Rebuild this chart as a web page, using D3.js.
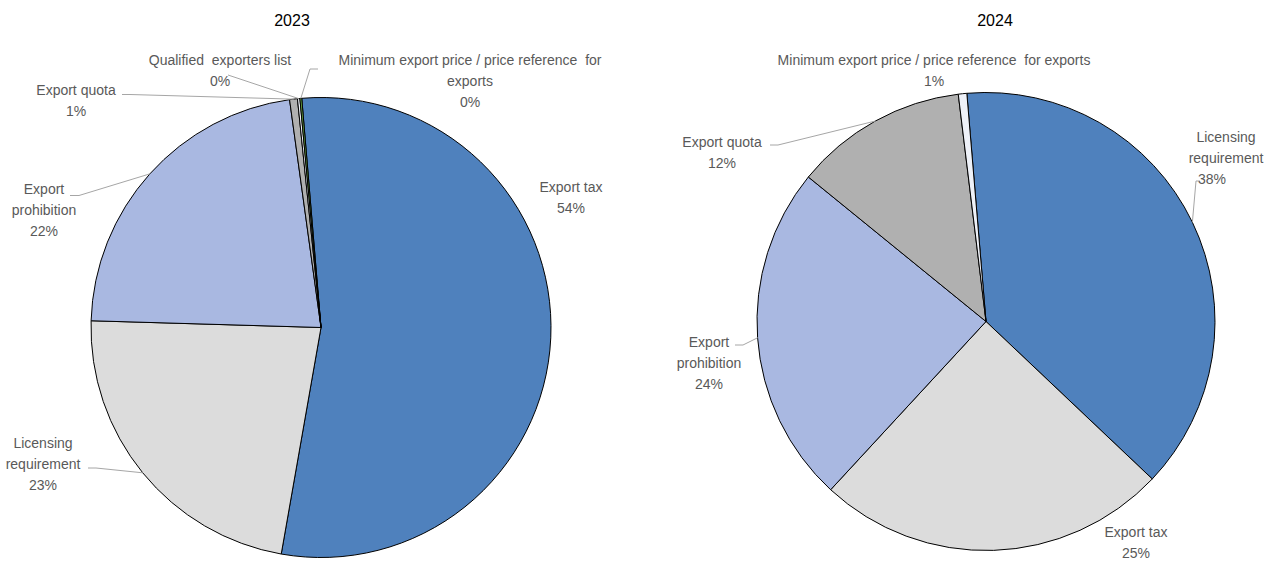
<!DOCTYPE html>
<html>
<head>
<meta charset="utf-8">
<script src="https://cdn.jsdelivr.net/npm/d3@7/dist/d3.min.js"></script>
<style>
  html, body { margin: 0; padding: 0; background: #fff; }
  svg { display: block; font-family: "Liberation Sans", Arial, sans-serif; }
</style>
</head>
<body>
<svg id="chart" width="1264" height="564"></svg>
<script>
// Shares of export restriction measures, by type (%)
const years = ["2023", "2024"];

const categories2023 = ["Export tax", "Licensing requirement", "Export prohibition",
  "Export quota", "Qualified exporters list", "Minimum export price / price reference for exports"];
const values2023 = [54.1, 22.7, 22.35, 0.55, 0.17, 0.13];

const categories2024 = ["Licensing requirement", "Export tax", "Export prohibition",
  "Export quota", "Minimum export price / price reference for exports"];
const values2024 = [38.4, 24.8, 24.0, 12.2, 0.6];

// Label text lines (category wrapping as shown next to each slice)
const labelLines2023 = [
  ["Export tax"],
  ["Licensing", "requirement"],
  ["Export", "prohibition"],
  ["Export quota"],
  ["Qualified  exporters list"],
  ["Minimum export price / price reference  for", "exports"]
];
const labelLines2024 = [
  ["Licensing", "requirement"],
  ["Export tax"],
  ["Export", "prohibition"],
  ["Export quota"],
  ["Minimum export price / price reference  for exports"]
];

// Slice fills by series position
const palette = ["#4f81bd", "#dcdcdc", "#a9b8e1", "#b0b0b0", "#eef1f8", "#6aac45"];

// Layout: pie geometry and label placement (first-line centre, optional leader elbow)
const layouts = [
  {
    cx: 321, cy: 327.5, r: 230, titleX: 292,
    labels: [
      { x: 571, y: 187 },
      { x: 43, y: 443, leader: [[88, 468], [96, 468]] },
      { x: 44, y: 189, leader: [[70, 195.5], [79, 195.5]] },
      { x: 76, y: 90, leader: [[122, 94.5], [130, 94.5]] },
      { x: 220, y: 60, leader: [[228, 75]] },
      { x: 470, y: 60, leader: [[318, 69], [310, 69]] }
    ]
  },
  {
    cx: 986, cy: 321.5, r: 229, titleX: 995,
    labels: [
      { x: 1226, y: 137, pctX: 1212, leader: [[1200, 181], [1196, 181]] },
      { x: 1136, y: 532 },
      { x: 709, y: 342, leader: [[735, 345], [743, 345]] },
      { x: 722, y: 142, leader: [[770, 145], [778, 145]] },
      { x: 934, y: 60 }
    ]
  }
];

const series = [
  { year: years[0], categories: categories2023, values: values2023, lines: labelLines2023 },
  { year: years[1], categories: categories2024, values: values2024, lines: labelLines2024 }
];

const svg = d3.select("#chart");
const startAngle = -4.8 * Math.PI / 180;
const pct = d3.format(".0%");
const lineH = 21;

series.forEach((s, i) => {
  const L = layouts[i];
  const total = d3.sum(s.values);
  const pie = d3.pie().sort(null).value(d => d)
    .startAngle(startAngle).endAngle(startAngle + 2 * Math.PI);
  const arcs = pie(s.values);
  const arc = d3.arc().innerRadius(0).outerRadius(L.r);
  const edge = d3.arc().innerRadius(L.r).outerRadius(L.r);

  // Title
  svg.append("text")
    .attr("x", L.titleX).attr("y", 26)
    .attr("text-anchor", "middle")
    .attr("font-size", 16).attr("fill", "#000")
    .text(s.year);

  const g = svg.append("g").attr("transform", `translate(${L.cx},${L.cy})`);

  g.selectAll("path.slice").data(arcs).join("path")
    .attr("class", "slice")
    .attr("d", arc)
    .attr("fill", (d, k) => palette[k])
    .attr("stroke", "#000")
    .attr("stroke-width", 1)
    .attr("stroke-linejoin", "round");

  // Leader lines from slice edge to label
  const line = d3.line();
  arcs.forEach((d, k) => {
    const lab = L.labels[k];
    if (!lab.leader) return;
    const [mx, my] = edge.centroid(d);
    const pts = lab.leader.map(p => [p[0], p[1]]).concat([[mx + L.cx, my + L.cy]]);
    svg.append("path")
      .attr("d", line(pts))
      .attr("fill", "none")
      .attr("stroke", "#a6a6a6")
      .attr("stroke-width", 1);
  });

  // Labels: category lines followed by percentage
  arcs.forEach((d, k) => {
    const lab = L.labels[k];
    const rows = s.lines[k].concat([pct(d.value / total)]);
    const t = svg.append("text")
      .attr("text-anchor", "middle")
      .attr("font-size", 14)
      .attr("fill", "#595959")
      .style("white-space", "pre");
    rows.forEach((txt, j) => {
      const isPct = j === rows.length - 1;
      t.append("tspan")
        .attr("x", isPct && lab.pctX ? lab.pctX : lab.x)
        .attr("y", lab.y + j * lineH)
        .attr("dy", "0.35em")
        .text(txt);
    });
  });
});
</script>
</body>
</html>
